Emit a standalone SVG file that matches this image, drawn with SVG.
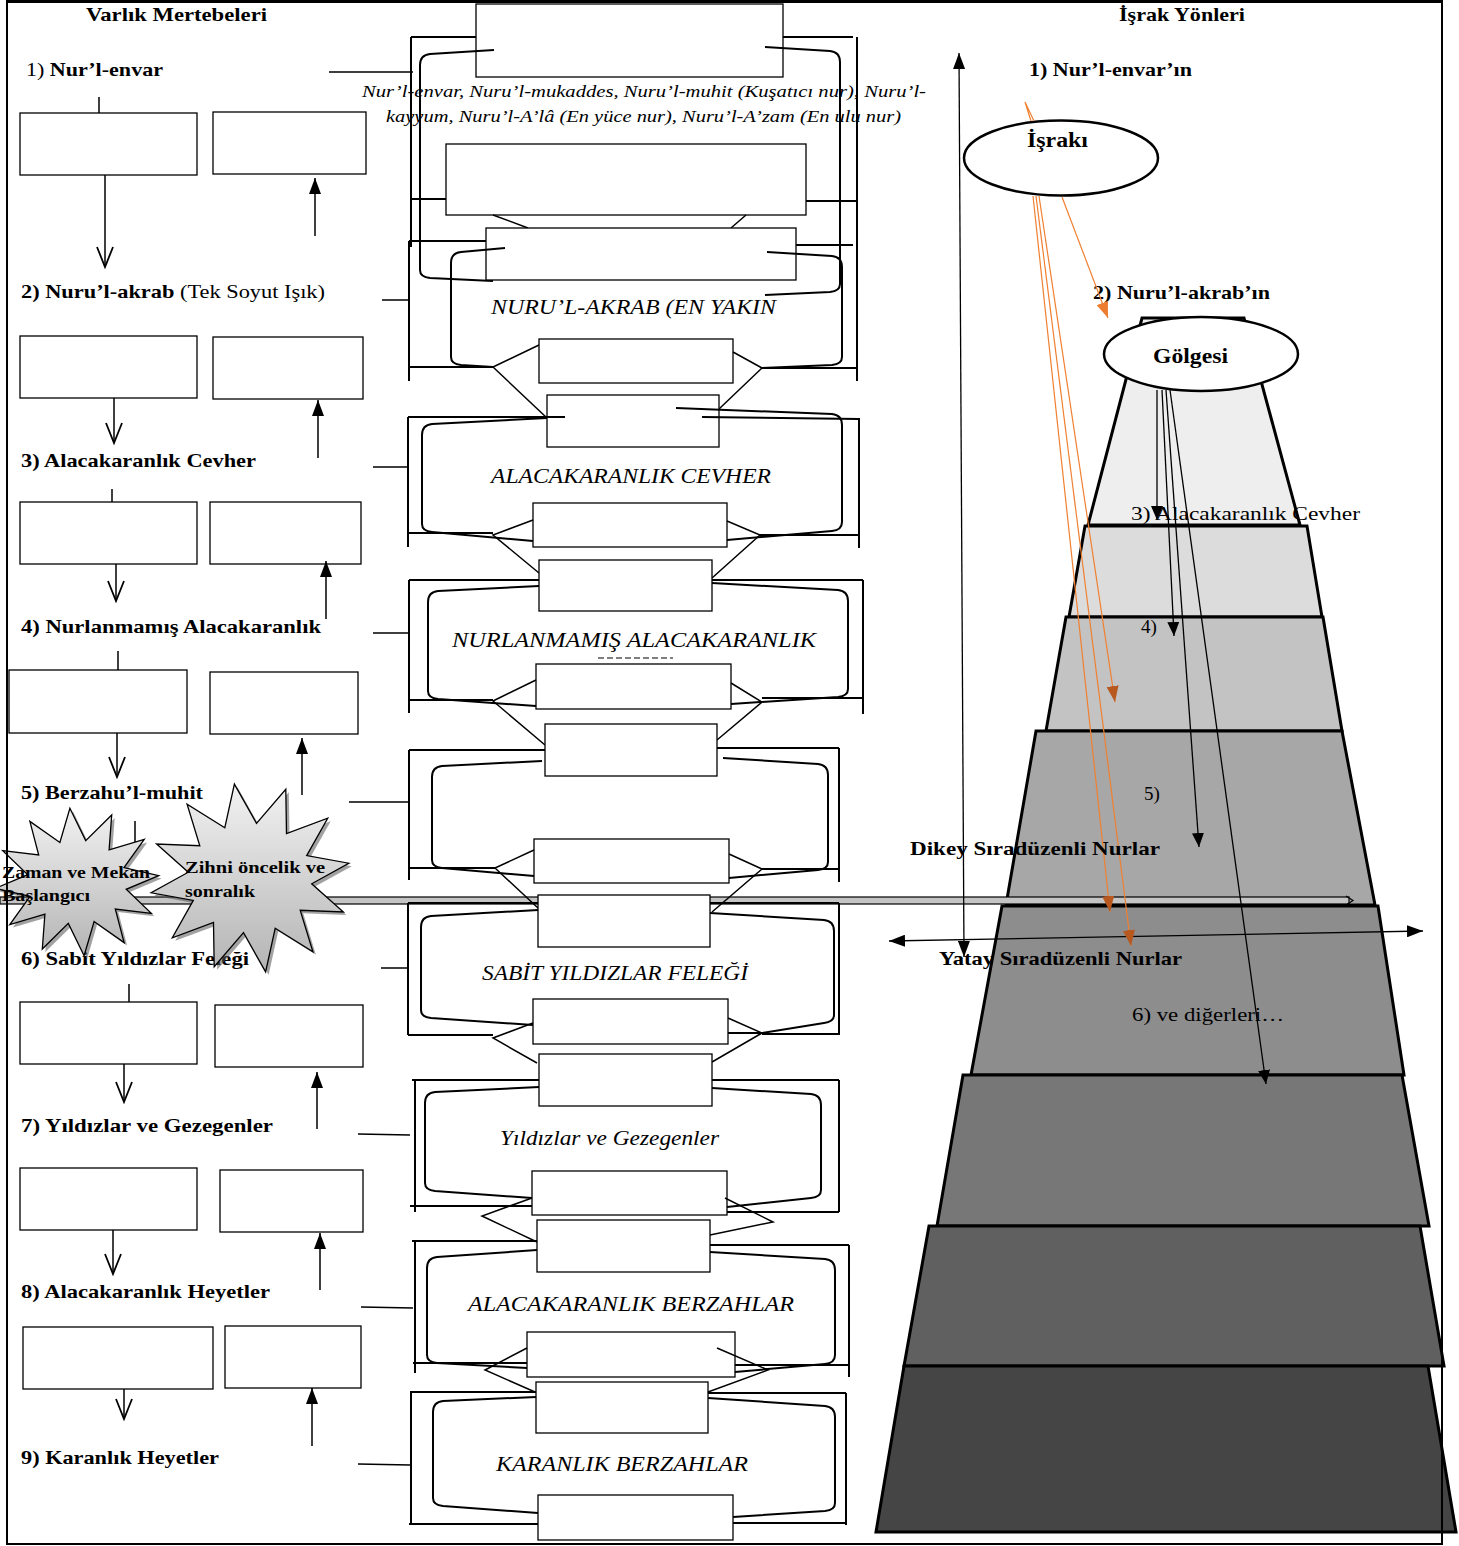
<svg xmlns="http://www.w3.org/2000/svg" width="1459" height="1546" viewBox="0 0 1459 1546">
<style>
text{font-family:"Liberation Serif","DejaVu Serif",serif;fill:#000}
.b{font-weight:bold}
.it{font-style:italic}
.ol{stroke:#000;stroke-width:2;fill:none}
.il{stroke:#000;stroke-width:2;fill:none}
.bx{fill:#fff;stroke:#000;stroke-width:1.3}
.ln{stroke:#000;stroke-width:1.5;fill:none}
.tz{stroke:#000;stroke-width:3;stroke-linejoin:miter}
.or{stroke:#F08030;stroke-width:1.2;fill:none}
.ar{stroke:#000;stroke-width:1.3;fill:none}
.star{stroke:#000;stroke-width:1.3;fill:url(#sg)}
.sh{fill:#555;opacity:.55}
</style>
<defs>
<marker id="ah" markerUnits="userSpaceOnUse" viewBox="0 0 16 12" refX="16" refY="6" markerWidth="16" markerHeight="12" orient="auto-start-reverse"><path d="M0,0 L16,6 L0,12 z" fill="#000"/></marker>
<marker id="ahs" markerUnits="userSpaceOnUse" viewBox="0 0 14 12" refX="14" refY="6" markerWidth="14" markerHeight="12" orient="auto"><path d="M0,0 L14,6 L0,12 z" fill="#000"/></marker>
<marker id="vee" markerUnits="userSpaceOnUse" viewBox="0 0 24 18" refX="22" refY="9" markerWidth="24" markerHeight="18" orient="auto"><path d="M2,1 L22,9 L2,17" fill="none" stroke="#000" stroke-width="1.8"/></marker>
<marker id="aho" markerUnits="userSpaceOnUse" viewBox="0 0 16 12" refX="16" refY="6" markerWidth="16" markerHeight="12" orient="auto"><path d="M0,0 L16,6 L0,12 z" fill="#ED7D31"/></marker>
<marker id="ahb" markerUnits="userSpaceOnUse" viewBox="0 0 16 12" refX="16" refY="6" markerWidth="16" markerHeight="12" orient="auto"><path d="M0,0 L16,6 L0,12 z" fill="#B8581E"/></marker>
<marker id="ahsmall" markerUnits="userSpaceOnUse" viewBox="0 0 8 8" refX="7" refY="4" markerWidth="8" markerHeight="8" orient="auto"><path d="M1,1 L7,4 L1,7" fill="none" stroke="#000" stroke-width="1"/></marker>
<linearGradient id="sg" x1="0" y1="0" x2="0" y2="1"><stop offset="0" stop-color="#f2f2f2"/><stop offset="1" stop-color="#b4b4b4"/></linearGradient>
</defs>

<!-- Pyramid (right side) -->
<g id="pyramid">
<polygon class="tz" points="1142,318 1244,318 1300,525 1088,525" fill="#eeeeee"/>
<polygon class="tz" points="1085,526 1307,526 1322,617 1069,617" fill="#dcdcdc"/>
<polygon class="tz" points="1066,617 1323,617 1342,731 1046,731" fill="#c3c3c3"/>
<polygon class="tz" points="1036,731 1342,731 1375,905 1006,905" fill="#a7a7a7"/>
<polygon class="tz" points="1002,906 1378,906 1404,1075 971,1075" fill="#8d8d8d"/>
<polygon class="tz" points="963,1075 1402,1075 1429,1226 937,1226" fill="#777777"/>
<polygon class="tz" points="929,1226 1420,1226 1444,1366 904,1366" fill="#606060"/>
<polygon class="tz" points="904,1366 1428,1366 1456,1532 876,1532" fill="#454545"/>
</g>

<!-- long horizontal bar -->
<g id="bar">
<rect x="0" y="897" width="1349" height="7" fill="#c4c4c4" stroke="#000" stroke-width="1.2"/>
<path d="M1346,896 L1353,900.5 L1346,905" fill="none" stroke="#000" stroke-width="1.2"/>
</g>

<!-- Middle column blocks -->
<g id="m1-nur-envar">
<rect class="bx" x="476" y="4" width="307" height="73"/>
<rect class="bx" x="446" y="144" width="360" height="71"/>
<path class="ol" d="M411,37 H476 M783,37 H853 M411,37 V247 M857,37 V381 M411,199 H446 M806,201 H857"/>
<path class="il" d="M494,50 L430,54 Q420,55 420,65 L420,270 Q420,277 430,278 L493,281 M765,47 L830,51 Q840,52 840,62 L840,284 Q840,291 830,292 L765,295"/>
<path class="ln" d="M493,215 L528,228 M746,215 L731,228"/>
<text class="it" x="362" y="97" font-size="17" textLength="564" lengthAdjust="spacingAndGlyphs">Nur’l-envar, Nuru’l-mukaddes, Nuru’l-muhit (Kuşatıcı nur), Nuru’l-</text>
<text class="it" x="386" y="122" font-size="17" textLength="515" lengthAdjust="spacingAndGlyphs">kayyum, Nuru’l-A’lâ (En yüce nur), Nuru’l-A’zam (En ulu nur)</text>
</g>

<g id="m2-nuru-akrab">
<rect class="bx" x="486" y="228" width="310" height="52"/>
<rect class="bx" x="539" y="339" width="194" height="44"/>
<path class="ol" d="M409,241 H486 M409,241 V381 M796,245 H853 M409,367 H493 M762,368 H857"/>
<path class="il" d="M505,248 L461,252 Q451,253 451,263 L451,357 Q451,364 461,365 L493,367 M767,252 L832,256 Q842,257 842,267 L842,357 Q842,364 832,365 L762,368"/>
<text class="it" x="491" y="314" font-size="20" textLength="285" lengthAdjust="spacingAndGlyphs">NURU’L-AKRAB (EN YAKIN</text>
<path class="ln" d="M539,345 L493,367 L547,418 M733,352 L762,368 L719,409"/>
</g>

<g id="m3-alacakaranlik-cevher">
<rect class="bx" x="547" y="395" width="172" height="52"/>
<rect class="bx" x="533" y="503" width="194" height="44"/>
<path class="ol" d="M408,417 H565 M702,417 L859,419 M408,417 V547 M859,418 V548 M408,533 H493 M760,535 H859"/>
<path class="il" d="M547,418 L432,424 Q422,425 422,435 L422,524 Q422,531 432,532 L533,541 M676,408 L832,414 Q842,415 842,425 L842,522 Q842,530 832,531 L727,540"/>
<text class="it" x="491" y="483" font-size="20" textLength="280" lengthAdjust="spacingAndGlyphs">ALACAKARANLIK CEVHER</text>
<path class="ln" d="M533,520 L493,535 L539,573 M727,521 L760,535 L712,578"/>
</g>

<g id="m4-nurlanmamis-alacakaranlik">
<rect class="bx" x="539" y="560" width="173" height="51"/>
<rect class="bx" x="536" y="664" width="195" height="45"/>
<path class="ol" d="M409,580 H539 M712,580 H863 M409,580 V713 M863,580 V714 M409,700 H493 M762,698 H863"/>
<path class="il" d="M539,586 L438,591 Q428,592 428,602 L428,691 Q428,698 438,699 L536,706 M712,583 L838,590 Q848,591 848,601 L848,689 Q848,696 838,697 L731,704"/>
<text class="it" x="452" y="647" font-size="20" textLength="364" lengthAdjust="spacingAndGlyphs">NURLANMAMIŞ ALACAKARANLIK</text>
<path d="M598,658 H673" stroke="#000" stroke-width="1.2" stroke-dasharray="6 3"/>
<path class="ln" d="M536,680 L493,701 L545,745 M731,683 L762,702 L717,740"/>
</g>

<g id="m5-berzahul-muhit">
<rect class="bx" x="545" y="724" width="172" height="52"/>
<rect class="bx" x="534" y="839" width="195" height="44"/>
<path class="ol" d="M409,750 H545 M717,748 H839 M409,750 V880 M839,748 V882 M409,868 H495 M762,869 H839"/>
<path class="il" d="M542,761 L442,766 Q432,767 432,777 L432,860 Q432,867 442,868 L534,876 M723,758 L818,764 Q828,765 828,775 L828,862 Q828,869 818,870 L729,878"/>
<path class="ln" d="M534,850 L495,868 L538,908 M729,854 L762,869 L712,912"/>
</g>

<g id="m6-sabit-yildizlar">
<rect class="bx" x="538" y="895" width="172" height="52"/>
<rect class="bx" x="533" y="999" width="195" height="45"/>
<path class="ol" d="M408,903 H538 M710,903 H839 M408,903 V1035 M839,903 V1035 M408,1035 H493 M762,1034 H839"/>
<path class="il" d="M538,910 L431,916 Q421,917 421,927 L421,1010 Q421,1017 431,1018 L533,1025 M710,913 L824,920 Q834,921 834,931 L834,1015 Q834,1022 824,1023 L762,1033 H728"/>
<text class="it" x="482" y="980" font-size="20" textLength="266" lengthAdjust="spacingAndGlyphs">SABİT YILDIZLAR FELEĞİ</text>
<path class="ln" d="M533,1023 L493,1038 L537,1063 M728,1018 L762,1033 L712,1062"/>
</g>

<g id="m7-yildizlar-gezegenler">
<rect class="bx" x="539" y="1054" width="173" height="52"/>
<rect class="bx" x="532" y="1171" width="195" height="44"/>
<path class="ol" d="M412,1080 H539 M712,1080 H839 M415,1080 V1212 M839,1080 V1212 M410,1206 H532 M727,1212 H839"/>
<path class="il" d="M539,1087 L435,1092 Q425,1093 425,1103 L425,1183 Q425,1190 435,1191 L532,1198 M712,1088 L811,1094 Q821,1095 821,1105 L821,1190 Q821,1197 811,1198 L727,1207"/>
<text class="it" x="500" y="1145" font-size="20" textLength="219" lengthAdjust="spacingAndGlyphs">Yıldızlar ve Gezegenler</text>
<path class="ln" d="M532,1198 L482,1216 L537,1242 M725,1198 L773,1222 L710,1235"/>
</g>

<g id="m8-alacakaranlik-berzahlar">
<rect class="bx" x="537" y="1220" width="173" height="52"/>
<rect class="bx" x="527" y="1332" width="208" height="45"/>
<path class="ol" d="M412,1241 H537 M710,1245 H849 M415,1241 V1373 M849,1245 V1377 M413,1363 H527 M735,1365 H849"/>
<path class="il" d="M537,1250 L437,1257 Q427,1258 427,1268 L427,1355 Q427,1362 437,1363 L527,1368 M710,1252 L825,1259 Q835,1260 835,1270 L835,1355 Q835,1363 825,1364 L735,1372"/>
<text class="it" x="468" y="1311" font-size="20" textLength="326" lengthAdjust="spacingAndGlyphs">ALACAKARANLIK BERZAHLAR</text>
<path class="ln" d="M527,1348 L485,1370 L535,1392 M717,1348 L768,1370 L708,1392"/>
</g>

<g id="m9-karanlik-berzahlar">
<rect class="bx" x="536" y="1382" width="172" height="51"/>
<rect class="bx" x="538" y="1495" width="195" height="45"/>
<path class="ol" d="M410,1392 H536 M708,1393 H846 M411,1392 V1525 M846,1393 V1525 M409,1524 H538 M733,1523 H846"/>
<path class="il" d="M536,1397 L443,1401 Q433,1402 433,1412 L433,1498 Q433,1505 443,1506 L538,1513 M708,1398 L825,1406 Q835,1407 835,1417 L835,1503 Q835,1510 825,1511 L733,1517"/>
<text class="it" x="496" y="1471" font-size="20" textLength="252" lengthAdjust="spacingAndGlyphs">KARANLIK BERZAHLAR</text>
</g>

<!-- Left column -->
<g id="left-title"><text class="b" x="86" y="21" font-size="19" textLength="181" lengthAdjust="spacingAndGlyphs">Varlık Mertebeleri</text></g>

<g id="l1"><text x="26" y="76" font-size="19" textLength="137" lengthAdjust="spacingAndGlyphs">1) <tspan class="b">Nur’l-envar</tspan></text>
<rect class="bx" x="20" y="113" width="177" height="62"/><rect class="bx" x="213" y="112" width="153" height="62"/></g>
<g id="l2"><text x="21" y="298" font-size="19" textLength="304" lengthAdjust="spacingAndGlyphs"><tspan class="b">2) Nuru’l-akrab</tspan> (Tek Soyut Işık)</text>
<rect class="bx" x="20" y="336" width="177" height="62"/><rect class="bx" x="213" y="337" width="150" height="62"/></g>
<g id="l3"><text class="b" x="21" y="467" font-size="19" textLength="235" lengthAdjust="spacingAndGlyphs">3) Alacakaranlık Cevher</text>
<rect class="bx" x="20" y="502" width="177" height="62"/><rect class="bx" x="210" y="502" width="151" height="62"/></g>
<g id="l4"><text class="b" x="21" y="633" font-size="19" textLength="300" lengthAdjust="spacingAndGlyphs">4) Nurlanmamış Alacakaranlık</text>
<rect class="bx" x="9" y="670" width="178" height="63"/><rect class="bx" x="210" y="672" width="148" height="62"/></g>
<g id="l5"><text class="b" x="21" y="799" font-size="19" textLength="182" lengthAdjust="spacingAndGlyphs">5) Berzahu’l-muhit</text></g>
<g id="l6"><text class="b" x="21" y="965" font-size="19" textLength="228" lengthAdjust="spacingAndGlyphs">6) Sabit Yıldızlar Feleği</text>
<rect class="bx" x="20" y="1002" width="177" height="62"/><rect class="bx" x="215" y="1005" width="148" height="62"/></g>
<g id="l7"><text class="b" x="21" y="1132" font-size="19" textLength="252" lengthAdjust="spacingAndGlyphs">7) Yıldızlar ve Gezegenler</text>
<rect class="bx" x="20" y="1168" width="177" height="62"/><rect class="bx" x="220" y="1170" width="143" height="62"/></g>
<g id="l8"><text class="b" x="21" y="1298" font-size="19" textLength="249" lengthAdjust="spacingAndGlyphs">8) Alacakaranlık Heyetler</text>
<rect class="bx" x="23" y="1327" width="190" height="62"/><rect class="bx" x="225" y="1326" width="136" height="62"/></g>
<g id="l9"><text class="b" x="21" y="1464" font-size="19" textLength="198" lengthAdjust="spacingAndGlyphs">9) Karanlık Heyetler</text></g>

<!-- Right labels and ellipses -->
<g id="right-title"><text class="b" x="1119" y="21" font-size="19" textLength="126" lengthAdjust="spacingAndGlyphs">İşrak Yönleri</text></g>
<g id="r1"><text class="b" x="1029" y="76" font-size="19" textLength="163" lengthAdjust="spacingAndGlyphs">1) Nur’l-envar’ın</text></g>
<g id="israki"><ellipse cx="1061" cy="158" rx="97" ry="37.5" fill="#fff" stroke="#000" stroke-width="2.5"/>
<text class="b" x="1027" y="147" font-size="20" textLength="61" lengthAdjust="spacingAndGlyphs">İşrakı</text></g>
<g id="r2"><text class="b" x="1093" y="299" font-size="19" textLength="177" lengthAdjust="spacingAndGlyphs">2) Nuru’l-akrab’ın</text></g>
<g id="golgesi"><ellipse cx="1201" cy="354" rx="97" ry="37" fill="#fff" stroke="#000" stroke-width="2.5"/>
<text class="b" x="1153" y="363" font-size="20" textLength="75" lengthAdjust="spacingAndGlyphs">Gölgesi</text></g>

<!-- Connectors -->
<g id="connectors">
<path class="ln" d="M329,72 H413 M382,300 H409 M373,467 H408 M373,633 H409 M349,802 H409 M381,968 H408 M358,1134 L410,1135 M361,1307 L413,1308 M358,1464 L410,1465"/>
<path class="ln" d="M99,97 V113 M112,489 V502 M118,651 V670 M135,821 V842 M129,984 V1002"/>
<g class="ln">
<line x1="105" y1="175" x2="105" y2="267" marker-end="url(#vee)"/>
<line x1="114" y1="398" x2="114" y2="443" marker-end="url(#vee)"/>
<line x1="116" y1="564" x2="116" y2="601" marker-end="url(#vee)"/>
<line x1="117" y1="733" x2="117" y2="777" marker-end="url(#vee)"/>
<line x1="124" y1="1064" x2="124" y2="1102" marker-end="url(#vee)"/>
<line x1="113" y1="1230" x2="113" y2="1274" marker-end="url(#vee)"/>
<line x1="124" y1="1389" x2="124" y2="1419" marker-end="url(#vee)"/>
<line x1="315" y1="236" x2="315" y2="178" marker-end="url(#ah)"/>
<line x1="318" y1="458" x2="318" y2="400" marker-end="url(#ah)"/>
<line x1="326" y1="619" x2="326" y2="561" marker-end="url(#ah)"/>
<line x1="302" y1="795" x2="302" y2="738" marker-end="url(#ah)"/>
<line x1="317" y1="1129" x2="317" y2="1072" marker-end="url(#ah)"/>
<line x1="320" y1="1290" x2="320" y2="1233" marker-end="url(#ah)"/>
<line x1="312" y1="1446" x2="312" y2="1388" marker-end="url(#ah)"/>
</g>
<!-- vertical and horizontal axes -->
<line class="ar" x1="964" y1="957" x2="959" y2="53" marker-start="url(#ah)" marker-end="url(#ah)"/>
<line class="ar" x1="889" y1="941" x2="1423" y2="931" marker-start="url(#ah)" marker-end="url(#ah)"/>
<!-- orange rays -->
<path class="or" d="M1025,102 L1034,121 M1025,102 L1031,121"/>
<line class="or" x1="1062" y1="197" x2="1108" y2="318" marker-end="url(#aho)"/>
<line class="or" x1="1039" y1="196" x2="1115" y2="702" marker-end="url(#ahb)"/>
<line class="or" x1="1033" y1="196" x2="1110" y2="912" marker-end="url(#ahb)"/>
<line class="or" x1="1036" y1="196" x2="1131" y2="946" marker-end="url(#ahb)"/>
<!-- black rays -->
<line class="ar" x1="1157" y1="390" x2="1157" y2="520" marker-end="url(#ahs)"/>
<line class="ar" x1="1162" y1="390" x2="1174" y2="636" marker-end="url(#ahs)"/>
<line class="ar" x1="1166" y1="390" x2="1199" y2="847" marker-end="url(#ahs)"/>
<line class="ar" x1="1170" y1="390" x2="1266" y2="1084" marker-end="url(#ahs)"/>
</g>

<!-- Right side pyramid labels -->
<g id="pyr-labels">
<text x="1131" y="520" font-size="19" textLength="229" lengthAdjust="spacingAndGlyphs">3) Alacakaranlık Cevher</text>
<text x="1141" y="633" font-size="19">4)</text>
<text x="1144" y="800" font-size="19">5)</text>
<text class="b" x="910" y="855" font-size="19" textLength="250" lengthAdjust="spacingAndGlyphs">Dikey Sıradüzenli Nurlar</text>
<text class="b" x="939" y="965" font-size="19" textLength="243" lengthAdjust="spacingAndGlyphs">Yatay Sıradüzenli Nurlar</text>
<text x="1132" y="1021" font-size="19" textLength="152" lengthAdjust="spacingAndGlyphs">6) ve diğerleri…</text>
</g>

<!-- Stars -->
<g id="star-zaman">
<polygon class="sh" transform="translate(3,3)" points="111.7,815 109.1,849.8 144.2,839.5 124,867.6 158.7,875.6 126.2,889.3 151.3,913.3 115.3,909 124.1,942.6 94.1,921.5 84.1,955.7 68.3,923.4 42.3,949 44.9,914.2 9.8,924.5 30,896.4 -4.7,888.4 27.8,874.7 2.7,850.7 38.7,855 29.9,821.4 59.9,842.5 69.9,808.3 85.7,840.6"/>
<polygon class="star" points="111.7,815 109.1,849.8 144.2,839.5 124,867.6 158.7,875.6 126.2,889.3 151.3,913.3 115.3,909 124.1,942.6 94.1,921.5 84.1,955.7 68.3,923.4 42.3,949 44.9,914.2 9.8,924.5 30,896.4 -4.7,888.4 27.8,874.7 2.7,850.7 38.7,855 29.9,821.4 59.9,842.5 69.9,808.3 85.7,840.6"/>
<text class="b" x="2" y="878" font-size="16" textLength="148" lengthAdjust="spacingAndGlyphs">Zaman ve Mekan</text>
<text class="b" x="2" y="901" font-size="16" textLength="88" lengthAdjust="spacingAndGlyphs">Başlangıcı</text>
</g>
<g id="star-zihni">
<polygon class="sh" transform="translate(3,3)" points="285.8,789.3 286.5,833.5 327.7,818.2 306.7,855.6 348.8,863.2 311.7,883.8 343.4,912 300.2,910.3 312.9,951.8 275.2,928.3 265.6,971.9 243.5,932.7 214.2,966.7 213.5,922.5 172.3,937.8 193.3,900.4 151.2,892.8 188.3,872.2 156.6,844 199.8,845.7 187.1,804.2 224.8,827.7 234.4,784.1 256.5,823.3"/>
<polygon class="star" points="285.8,789.3 286.5,833.5 327.7,818.2 306.7,855.6 348.8,863.2 311.7,883.8 343.4,912 300.2,910.3 312.9,951.8 275.2,928.3 265.6,971.9 243.5,932.7 214.2,966.7 213.5,922.5 172.3,937.8 193.3,900.4 151.2,892.8 188.3,872.2 156.6,844 199.8,845.7 187.1,804.2 224.8,827.7 234.4,784.1 256.5,823.3"/>
<text class="b" x="185" y="873" font-size="16" textLength="140" lengthAdjust="spacingAndGlyphs">Zihni öncelik ve</text>
<text class="b" x="185" y="897" font-size="16" textLength="70" lengthAdjust="spacingAndGlyphs">sonralık</text>
</g>

<!-- Frame -->
<g id="frame" stroke="#000" fill="none">
<line x1="7" y1="0" x2="7" y2="1545" stroke-width="2"/>
<line x1="6" y1="1.5" x2="1443" y2="1.5" stroke-width="3"/>
<line x1="1442" y1="0" x2="1442" y2="1545" stroke-width="2"/>
<line x1="6" y1="1544" x2="1443" y2="1544" stroke-width="2"/>
</g>
</svg>
